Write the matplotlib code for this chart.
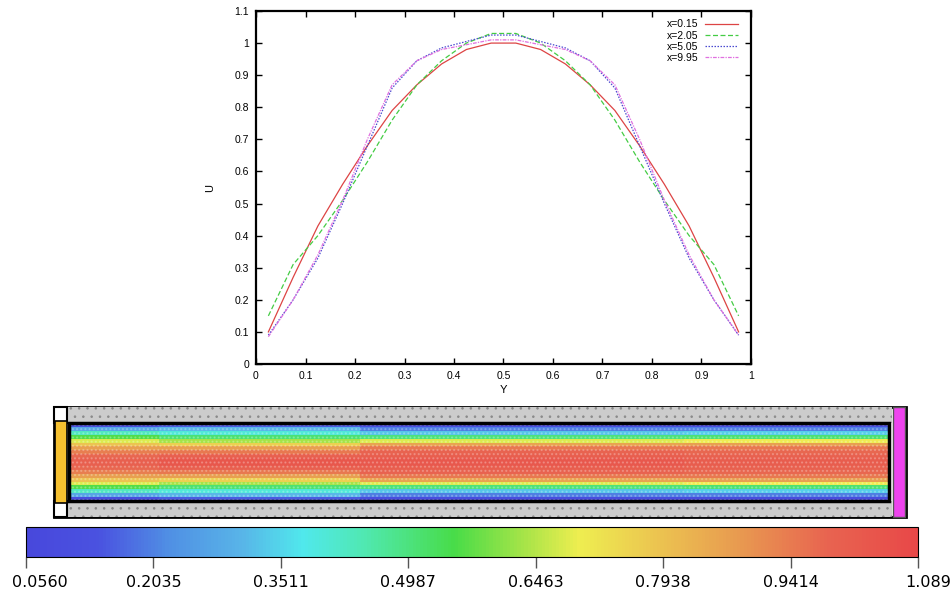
import numpy as np
import matplotlib
matplotlib.use("Agg")
import matplotlib.pyplot as plt
import matplotlib.transforms as mtrans
from matplotlib.colors import LinearSegmentedColormap
from matplotlib.patches import Rectangle

## Velocity profiles across the channel at four stations
y_pos = [0.025, 0.075, 0.125, 0.175, 0.225, 0.275, 0.325, 0.375, 0.425, 0.475,
         0.525, 0.575, 0.625, 0.675, 0.725, 0.775, 0.825, 0.875, 0.925, 0.975]
u_015 = [0.10, 0.27, 0.43, 0.56, 0.68, 0.79, 0.87, 0.935, 0.98, 1.00,
         1.00, 0.98, 0.935, 0.87, 0.79, 0.68, 0.56, 0.43, 0.27, 0.10]
u_205 = [0.15, 0.31, 0.40, 0.51, 0.63, 0.76, 0.87, 0.945, 1.00, 1.03,
         1.03, 1.00, 0.945, 0.87, 0.76, 0.63, 0.51, 0.40, 0.31, 0.15]
u_505 = [0.09, 0.20, 0.33, 0.50, 0.68, 0.86, 0.945, 0.985, 1.005, 1.025,
         1.025, 1.005, 0.985, 0.945, 0.86, 0.68, 0.50, 0.33, 0.20, 0.09]
u_995 = [0.085, 0.20, 0.34, 0.51, 0.70, 0.87, 0.945, 0.98, 0.995, 1.01,
         1.01, 0.995, 0.98, 0.945, 0.87, 0.70, 0.51, 0.34, 0.20, 0.09]
stations = [0.15, 2.05, 5.05, 9.95]
series_labels = ["x=0.15", "x=2.05", "x=5.05", "x=9.95"]

## Colour bar range and tick labels
cbar_ticks = [0.0560, 0.2035, 0.3511, 0.4987, 0.6463, 0.7938, 0.9414, 1.089]
cbar_labels = ["0.0560", "0.2035", "0.3511", "0.4987", "0.6463", "0.7938", "0.9414", "1.089"]

W, H = 953, 592
fig = plt.figure(figsize=(W / 100, H / 100), dpi=100)

def px_axes(x0, y0, x1, y1):
    return fig.add_axes([x0 / W, 1 - y1 / H, (x1 - x0) / W, (y1 - y0) / H])

## Top: profile plot (gnuplot look)
ax = px_axes(256, 11, 751, 364)
colors = ["#dd4444", "#44cc44", "#4a4ad0", "#e070e0"]
styles = ["-", (0, (4, 2)), (0, (1.2, 1.2)), (0, (3, 1, 1, 1))]
for u, lab, c, ls in zip([u_015, u_205, u_505, u_995], series_labels, colors, styles):
    ax.plot(y_pos, u, color=c, ls=ls, lw=0.9, label=lab)

ax.set_xlim(0, 1)
ax.set_ylim(0, 1.1)
xt = np.round(np.arange(0, 1.01, 0.1), 1)
yt = np.round(np.arange(0, 1.11, 0.1), 1)
ax.set_xticks(xt)
ax.set_xticklabels([("%g" % v) for v in xt])
ax.set_yticks(yt)
ax.set_yticklabels([("%g" % v) for v in yt])
ax.tick_params(direction="in", top=True, right=True, length=4, width=1,
               labelsize=7.5, pad=5)
for s in ax.spines.values():
    s.set_linewidth(1.6)
for t in ax.get_xticklabels() + ax.get_yticklabels():
    t.set_family("Liberation Sans")
ax.set_xlabel("Y", fontsize=8, family="Liberation Sans", labelpad=3)
ax.set_ylabel("U", fontsize=8, family="Liberation Sans", labelpad=14)
leg = ax.legend(loc="upper right", bbox_to_anchor=(0.9737, 0.976), frameon=False,
                markerfirst=False, handlelength=3.2, handletextpad=0.6,
                labelspacing=0.1, borderpad=0, borderaxespad=0,
                prop={"family": "Liberation Sans", "size": 7.5})

## Colour map sampled from the reference bar
cmap = LinearSegmentedColormap.from_list("flow", [
    (0.00, "#4848dc"), (0.08, "#4a52e0"), (0.16, "#5090e4"), (0.24, "#58b4e8"),
    (0.31, "#50e8ec"), (0.38, "#50e8b0"), (0.48, "#48dc48"), (0.56, "#a8e448"),
    (0.62, "#eeee50"), (0.70, "#ecc850"), (0.80, "#e89a50"), (0.90, "#e86450"),
    (1.00, "#e84848")])
vmin, vmax = cbar_ticks[0], cbar_ticks[-1]

## Middle: channel with velocity field
ch = px_axes(50, 403, 910, 521)
sx, sy = 82.0, 78.0   # px per unit
ch.set_xlim((50 - 69) / sx, (910 - 69) / sx)
ch.set_ylim((501 - 521) / sy, (501 - 403) / sy)
ch.axis("off")

field = np.array([u_015, u_205, u_505, u_995]).T
x_edges = np.concatenate([[0], (np.array(stations[:-1]) + np.array(stations[1:])) / 2, [10]])
y_edges = np.linspace(0, 1, len(y_pos) + 1)
mesh = ch.pcolormesh(x_edges, y_edges, field, cmap=cmap, vmin=vmin, vmax=vmax,
                     shading="flat", zorder=2)
# faint lattice texture like the reference render
ch.add_patch(Rectangle((0, 0), 10, 1, fc="none", ec=(1, 1, 1, 0.25), lw=0,
                       hatch="....", zorder=2.5))

wall = 0.2
plt.rcParams["hatch.linewidth"] = 0.6
ch.add_patch(Rectangle((-0.185, -wall - 0.005), 10.39, 1 + 2 * wall + 0.01,
                       fc="white", ec="black", lw=2, zorder=1))
for yb in (1.0, -wall):
    ch.add_patch(Rectangle((-0.02, yb), 10.06, wall, fc="#cccccc", ec="none", zorder=1.5))
    ch.add_patch(Rectangle((-0.02, yb), 10.06, wall, fc="none", ec="#8a8a8a",
                           lw=0, hatch="..", zorder=1.6))
    ch.add_patch(Rectangle((-0.185, yb), 0.165, wall, fc="white", ec="black",
                           lw=1.5, zorder=1.7))
ch.add_patch(Rectangle((-0.17, -0.03), 0.15, 1.06, fc="#f5c030", ec="black",
                       lw=1.2, zorder=1.7))
ch.add_patch(Rectangle((10.05, -wall - 0.005), 0.15, 1 + 2 * wall + 0.01,
                       fc="#ee44ee", ec="#555555", lw=1, zorder=1.7))
ch.add_patch(Rectangle((0, 0), 10, 1, fc="none", ec="black", lw=2.5, zorder=3))

## Bottom: colour bar
cax = px_axes(26, 527, 918, 557)
cb = fig.colorbar(mesh, cax=cax, orientation="horizontal", ticks=cbar_ticks)
cb.ax.set_xticklabels(cbar_labels)
cb.outline.set_linewidth(0.8)
cax.tick_params(axis="x", length=8, width=1, color="#555555", labelsize=11.5,
                pad=5)
labs = cax.get_xticklabels()
labs[0].set_ha("left")
labs[0].set_transform(labs[0].get_transform() +
                      mtrans.ScaledTranslation(-14 / 100, 0, fig.dpi_scale_trans))
labs[-1].set_ha("left")
labs[-1].set_transform(labs[-1].get_transform() +
                       mtrans.ScaledTranslation(-13 / 100, 0, fig.dpi_scale_trans))

fig.savefig("out.png", dpi=100)
